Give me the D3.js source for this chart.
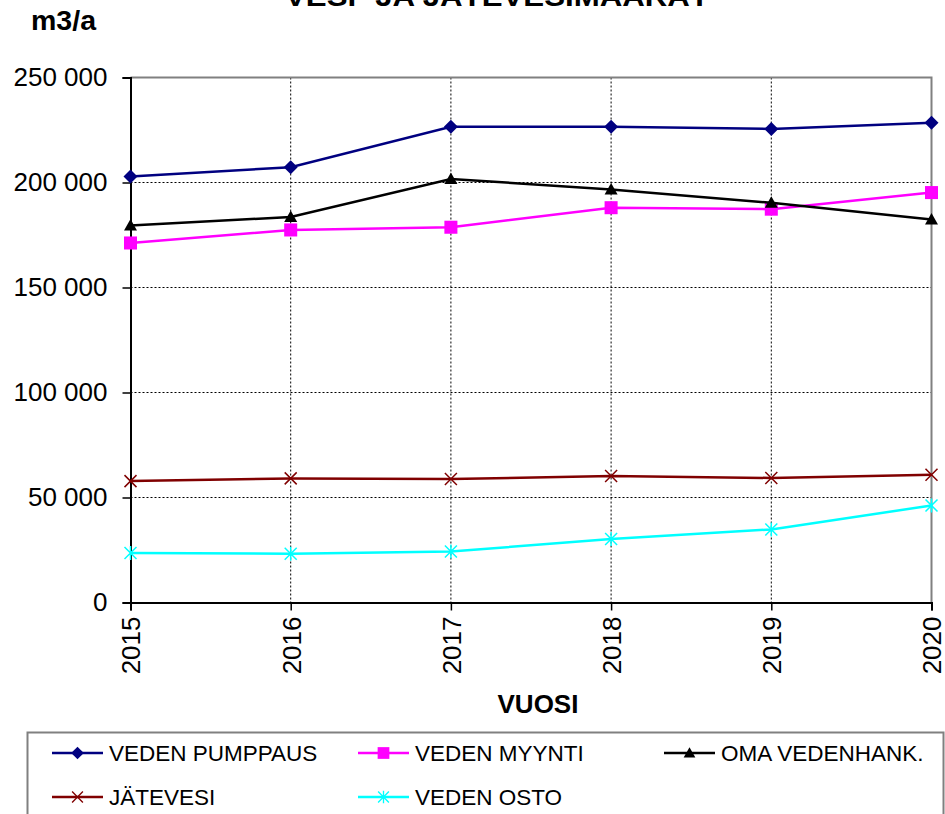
<!DOCTYPE html>
<html lang="fi">
<head>
<meta charset="UTF-8">
<title>VESI- JA JÄTEVESIMÄÄRÄT</title>
<script src="https://d3js.org/d3.v7.min.js"></script>
<style>
  body { margin: 0; background: #fff; }
  svg { display: block; font-family: "Liberation Sans", Arial, sans-serif; }
</style>
</head>
<body>
<script>
const years = [2015, 2016, 2017, 2018, 2019, 2020];
const yTicks = [0, 50000, 100000, 150000, 200000, 250000];
const pumppaus = [202900, 207300, 226500, 226500, 225500, 228500];
const myynti = [171200, 177400, 178700, 188000, 187300, 195200];
const omaHank = [179500, 183600, 201700, 196700, 190300, 182400];
const jatevesi = [57800, 59100, 58800, 60200, 59300, 60800];
const osto = [23600, 23200, 24300, 30200, 34800, 46200];

const series = [
  { name: "VEDEN PUMPPAUS", values: pumppaus, color: "#000080", marker: "diamond" },
  { name: "VEDEN MYYNTI", values: myynti, color: "#ff00ff", marker: "square" },
  { name: "OMA VEDENHANK.", values: omaHank, color: "#000000", marker: "triangle" },
  { name: "JÄTEVESI", values: jatevesi, color: "#800000", marker: "x" },
  { name: "VEDEN OSTO", values: osto, color: "#00ffff", marker: "star" }
];

const width = 945, height = 814;
const plotL = 130.5, plotR = 931.5, plotT = 77.5, plotB = 602.5;

const svg = d3.select("body").append("svg")
  .attr("width", width).attr("height", height);

const x = d3.scalePoint().domain(years).range([plotL, plotR]);
const y = d3.scaleLinear().domain([0, 250000]).range([plotB, plotT]);
const fmt = d3.formatLocale({ decimal: ",", thousands: " ", grouping: [3], currency: ["", ""] }).format(",d");

// gridlines
const grid = svg.append("g").attr("stroke", "#000").attr("stroke-width", 1).attr("stroke-dasharray", "2,2");
grid.selectAll("line.h").data(yTicks.filter(d => d > 0 && d < 250000)).join("line")
  .attr("class", "h")
  .attr("x1", plotL).attr("x2", plotR).attr("y1", d => y(d)).attr("y2", d => y(d));
grid.selectAll("line.v").data(years.slice(1, -1)).join("line")
  .attr("class", "v")
  .attr("y1", plotT).attr("y2", plotB).attr("x1", d => x(d)).attr("x2", d => x(d));

// plot border (top/right gray)
svg.append("path")
  .attr("d", `M${plotL},${plotT}H${plotR}V${plotB}`)
  .attr("fill", "none").attr("stroke", "#808080").attr("stroke-width", 2);

// y axis
const yAxis = svg.append("g").attr("transform", `translate(${plotL},0)`)
  .call(d3.axisLeft(y).tickValues(yTicks).tickSize(8).tickPadding(15).tickFormat(fmt));
yAxis.select(".domain").attr("stroke-width", 2);
yAxis.selectAll(".tick line").attr("stroke-width", 1.5);
yAxis.selectAll("text").attr("font-size", 26).attr("fill", "#000").attr("font-family", "Liberation Sans, Arial, sans-serif");

// x axis
const xAxis = svg.append("g").attr("transform", `translate(0,${plotB})`)
  .call(d3.axisBottom(x).tickSize(8).tickFormat(d3.format("d")));
xAxis.select(".domain").attr("stroke-width", 2);
xAxis.selectAll(".tick line").attr("stroke-width", 1.5);
xAxis.selectAll("text")
  .attr("font-size", 26).attr("fill", "#000").attr("font-family", "Liberation Sans, Arial, sans-serif")
  .attr("transform", "rotate(-90)")
  .attr("text-anchor", "end")
  .attr("x", -14).attr("y", 0).attr("dy", "0.36em");

// marker shapes
function markerPath(type) {
  if (type === "diamond") return "M0,-7L7,0L0,7L-7,0Z";
  if (type === "square") return d3.symbol(d3.symbolSquare, 170)();
  if (type === "triangle") return "M0,-6.5L6.5,5L-6.5,5Z";
  if (type === "x") return "M-6,-6L6,6M-6,6L6,-6";
  return "M-6,-6L6,6M-6,6L6,-6M0,-7V7";
}
function drawMarker(sel, s) {
  const open = s.marker === "x" || s.marker === "star";
  sel.attr("d", markerPath(s.marker))
    .attr("fill", open ? "none" : s.color)
    .attr("stroke", s.color)
    .attr("stroke-width", open ? 1.5 : 0);
}

const line = d3.line().x((d, i) => x(years[i])).y(d => y(d));

series.forEach(s => {
  const g = svg.append("g");
  g.append("path").attr("d", line(s.values))
    .attr("fill", "none").attr("stroke", s.color).attr("stroke-width", 2.5);
  g.selectAll("path.m").data(s.values).join("path")
    .attr("class", "m")
    .attr("transform", (d, i) => `translate(${x(years[i])},${y(d)})`)
    .call(sel => drawMarker(sel, s));
});

// titles
svg.append("text").attr("x", 497).attr("y", 6).attr("text-anchor", "middle")
  .attr("font-size", 28).attr("font-weight", "bold")
  .attr("textLength", 424).attr("lengthAdjust", "spacingAndGlyphs")
  .text("VESI- JA JÄTEVESIMÄÄRÄT");
svg.append("text").attr("x", 31).attr("y", 30)
  .attr("font-size", 27).attr("font-weight", "bold")
  .attr("textLength", 65).attr("lengthAdjust", "spacingAndGlyphs").text("m3/a");
svg.append("text").attr("x", 538).attr("y", 713).attr("text-anchor", "middle")
  .attr("font-size", 26).attr("font-weight", "bold").text("VUOSI");

// legend
const legend = svg.append("g");
legend.append("rect").attr("x", 27.5).attr("y", 732.5).attr("width", 916).attr("height", 120)
  .attr("fill", "none").attr("stroke", "#808080").attr("stroke-width", 2);
const colX = [52, 358, 664];
const rowY = [753, 797];
series.forEach((s, i) => {
  const gx = colX[i % 3], gy = rowY[Math.floor(i / 3)];
  const g = legend.append("g").attr("transform", `translate(${gx},${gy})`);
  g.append("line").attr("x1", 0).attr("x2", 51).attr("stroke", s.color).attr("stroke-width", 2.5);
  g.append("path").attr("transform", "translate(25.5,0) scale(0.9)").call(sel => drawMarker(sel, s));
  g.append("text").attr("x", 57).attr("dy", "0.36em").attr("font-size", 22.5).text(s.name);
});
</script>
</body>
</html>
